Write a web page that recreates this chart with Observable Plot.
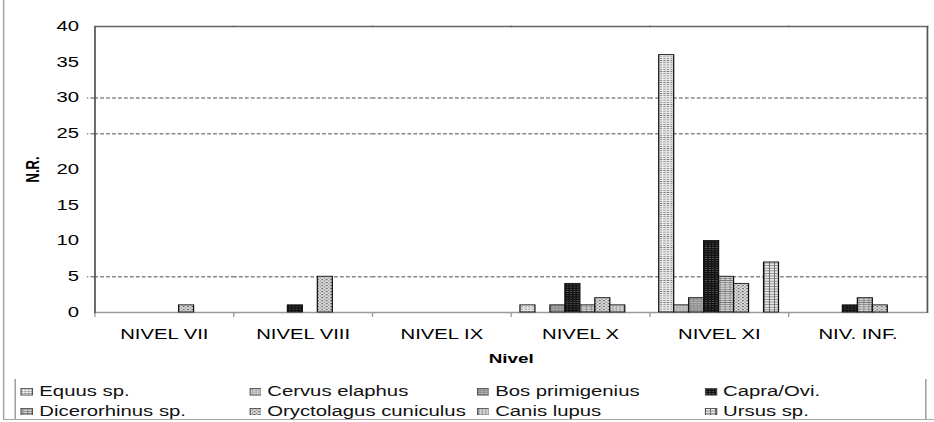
<!DOCTYPE html>
<html><head><meta charset="utf-8">
<script src="https://cdn.jsdelivr.net/npm/d3@7"></script>
<script src="https://cdn.jsdelivr.net/npm/@observablehq/plot@0.6"></script>
<style>
html,body{margin:0;padding:0;background:#fff;overflow:hidden;width:934px;height:422px;}
#wrap{position:absolute;left:0;top:0;width:644.14px;height:422px;transform:scaleX(1.45);transform-origin:0 0;font-family:"Liberation Sans",Arial,sans-serif;color:#000;}
#chart{position:absolute;left:0;top:0;}
#legend{position:absolute;left:10.34px;top:379px;width:628.3px;height:40px;box-sizing:border-box;border-left:1px solid #9a9a9a;border-right:1px solid #9a9a9a;display:grid;grid-template-columns:repeat(4,157.2px);grid-auto-rows:19.5px;padding:3px 0 0 3px;font-size:14px;color:#111;}
.item{display:flex;align-items:center;white-space:nowrap;line-height:19.5px;}
.item svg{flex:none;margin-right:4.1px;}
.bl{position:absolute;left:2.2px;top:0;width:1px;height:420px;background:#a0a0a0;}
.bb{position:absolute;left:2.2px;right:0;top:418.5px;height:1.6px;background:#a8a8a8;}
</style>
</head><body>
<svg width="0" height="0" style="position:absolute;left:0;top:0">
<defs>
<pattern id="p0" patternUnits="userSpaceOnUse" width="2.4" height="2.2"><rect width="2.4" height="2.2" fill="#e8e8e8"/><rect x="0.3" y="0.8" width="1.5" height="0.7" fill="#6c6c6c"/></pattern>
<pattern id="p1" patternUnits="userSpaceOnUse" width="2.4" height="2.2"><rect width="2.4" height="2.2" fill="#b4b4b4"/><rect x="0.5" y="0.6" width="1" height="0.8" fill="#ececec"/></pattern>
<pattern id="p2" patternUnits="userSpaceOnUse" width="2.4" height="2.2"><rect width="2.4" height="2.2" fill="#929292"/><rect x="0.3" y="0.8" width="1.4" height="0.6" fill="#cfcfcf"/></pattern>
<pattern id="p3" patternUnits="userSpaceOnUse" width="2.4" height="2.2"><rect width="2.4" height="2.2" fill="#121212"/><rect x="0.4" y="0.8" width="1.3" height="0.5" fill="#8a8a8a"/></pattern>
<pattern id="p4" patternUnits="userSpaceOnUse" width="3.4" height="2.2"><rect width="3.4" height="2.2" fill="#d6d6d6"/><rect x="0" y="0.9" width="3.4" height="0.5" fill="#505050"/><rect x="1.6" y="0" width="0.5" height="2.2" fill="#707070"/></pattern>
<pattern id="p5" patternUnits="userSpaceOnUse" width="3" height="3"><rect width="3" height="3" fill="#dedede"/><rect x="0" y="0" width="1.2" height="1.2" fill="#666"/><rect x="1.5" y="1.5" width="1.2" height="1.2" fill="#888"/></pattern>
<pattern id="p6" patternUnits="userSpaceOnUse" width="2.4" height="2.4"><rect width="2.4" height="2.4" fill="#d2d2d2"/><rect x="1" y="0" width="0.5" height="2.4" fill="#7a7a7a"/></pattern>
<pattern id="p7" patternUnits="userSpaceOnUse" width="3.6" height="2.6"><rect width="3.6" height="2.6" fill="#e8e8e8"/><rect x="0" y="0" width="3.6" height="0.6" fill="#5e5e5e"/><rect x="0" y="0" width="0.6" height="2.6" fill="#5e5e5e"/></pattern>
</defs>
</svg>
<div id="wrap"><div id="chart"></div><div id="legend"></div><div class="bl"></div><div class="bb"></div></div>
<script>
// ---- data ----
const categories = ["NIVEL VII", "NIVEL VIII", "NIVEL IX", "NIVEL X", "NIVEL XI", "NIV. INF."];
const species = ["Equus sp.", "Cervus elaphus", "Bos primigenius", "Capra/Ovi.", "Dicerorhinus sp.", "Oryctolagus cuniculus", "Canis lupus", "Ursus sp."];
const equus        = [0, 0, 0, 1, 36, 0];
const cervus       = [0, 0, 0, 0, 1, 0];
const bos          = [0, 0, 0, 1, 2, 0];
const capra        = [0, 1, 0, 4, 10, 1];
const dicerorhinus = [0, 0, 0, 1, 5, 2];
const oryctolagus  = [1, 5, 0, 2, 4, 1];
const canis        = [0, 0, 0, 1, 0, 0];
const ursus        = [0, 0, 0, 0, 7, 0];
const yTicks = [0, 5, 10, 15, 20, 25, 30, 35, 40];
const gridValues = [5, 25, 30];
const yLabel = "N.R.";
const xLabel = "Nivel";

// ---- build ----
const seriesValues = [equus, cervus, bos, capra, dicerorhinus, oryctolagus, canis, ursus];
const patternIds = ["p0", "p1", "p2", "p3", "p4", "p5", "p6", "p7"];
const rows = [];
seriesValues.forEach((vals, si) => vals.forEach((v, ci) => rows.push({cat: categories[ci], sp: species[si], v})));

const SX = 1.45;
const W0 = 934 / SX;
const H = 372, MT = 26, MB = 60;
const FONT = '"Liberation Sans", Arial, sans-serif';
const dash = "2.6,1.5";

const chart = Plot.plot({
  width: W0, height: H,
  marginLeft: 65, marginRight: 5, marginTop: MT, marginBottom: MB,
  style: {fontFamily: FONT, fontSize: "14px", background: "transparent", color: "#000", overflow: "visible"},
  facet: {data: rows, x: "cat"},
  fx: {domain: categories, padding: 0, round: false, axis: null, label: null},
  x: {domain: species, paddingInner: 0, paddingOuter: 0.633, round: false, axis: null},
  y: {domain: [0, 40], axis: null},
  color: {domain: species, range: patternIds.map(id => `url(#${id})`)},
  marks: [
    Plot.ruleY(gridValues, {stroke: "#888", strokeWidth: 1.3, strokeDasharray: dash}),
    Plot.axisY(gridValues, {anchor: "left", tickSize: 5, fill: "none", label: null, stroke: "#888", strokeWidth: 1.3, strokeDasharray: dash}),
    Plot.axisY(yTicks, {anchor: "left", tickSize: 0, tickPadding: 11, fontSize: 14, label: null}),
    Plot.axisY([], {anchor: "left", tickSize: 0, label: yLabel, labelAnchor: "center", labelOffset: 48, labelArrow: "none", fontSize: 13, fontWeight: "bold"}),
    Plot.axisFx({anchor: "bottom", tickSize: 0, tickPadding: 17, fontSize: 14, label: null}),
    Plot.axisFx([], {anchor: "bottom", tickSize: 0, label: xLabel, labelAnchor: "center", labelOffset: 51, labelArrow: "none", fontSize: 13, fontWeight: "bold"}),
    // small category separator ticks below the axis
    Plot.frame({anchor: "left", insetTop: H - MT - MB, insetBottom: -4, stroke: "#999", strokeWidth: 0.9}),
    Plot.ruleY([0], {stroke: "#9a9a9a", strokeWidth: 1.6}),
    Plot.barY(rows, {x: "sp", y: "v", fill: "sp", filter: d => d.v > 0, stroke: "#111", strokeWidth: 0.85}),
    Plot.frame({anchor: "top", stroke: "#666", strokeWidth: 1.3}),
    Plot.frame({anchor: "left", facetAnchor: "left", stroke: "#555", strokeWidth: 1.2}),
    Plot.frame({anchor: "right", facetAnchor: "right", stroke: "#555", strokeWidth: 1.2})
  ]
});
document.getElementById("chart").appendChild(chart);

// ---- legend ----
const legend = document.getElementById("legend");
species.forEach((s, i) => {
  const item = document.createElement("div");
  item.className = "item";
  item.innerHTML = `<svg width="8.7" height="7.5"><rect x="0.4" y="0.4" width="7.9" height="6.7" fill="url(#${patternIds[i]})" stroke="#444" stroke-width="0.8"/></svg><span>${s}</span>`;
  legend.appendChild(item);
});
</script>
</body></html>
